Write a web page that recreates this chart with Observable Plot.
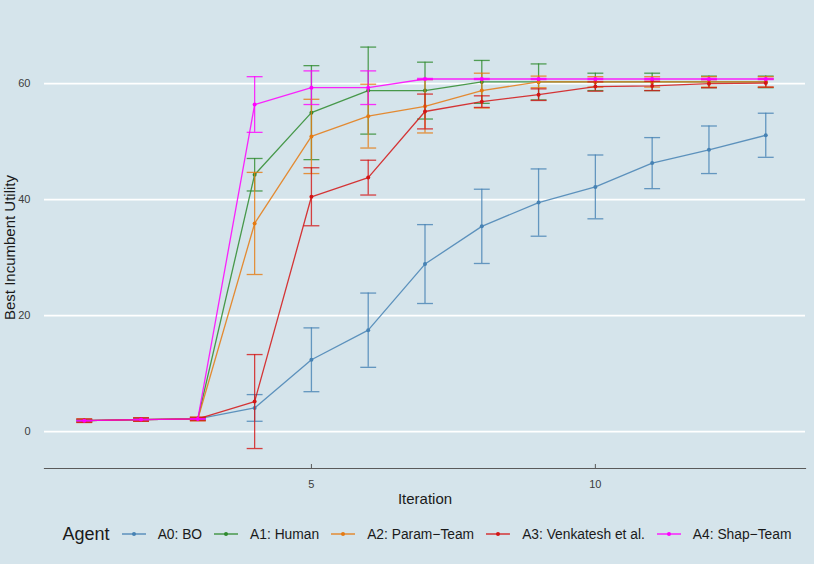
<!DOCTYPE html>
<html>
<head>
<meta charset="utf-8">
<script src="https://cdn.jsdelivr.net/npm/d3@7"></script>
<script src="https://cdn.jsdelivr.net/npm/@observablehq/plot@0.6"></script>
<style>
  html, body { margin: 0; padding: 0; background: #d5e4eb; }
  body { width: 814px; height: 564px; overflow: hidden; font-family: "Liberation Sans", Arial, sans-serif; }
  #legend { height: 44px; display: flex; align-items: center; justify-content: center; color: #1a1a1a; font-size: 13.8px; padding-left: 40px; }
  #legend .title { font-size: 18px; margin-right: 12px; }
  #legend .item { display: flex; align-items: center; margin-right: 12px; }
  #legend .item:last-child { margin-right: 0; }
  #legend .item svg { margin-right: 12px; }
</style>
</head>
<body>
<div id="chart"></div>
<div id="legend"></div>
<script>
const iterations = [1, 2, 3, 4, 5, 6, 7, 8, 9, 10, 11, 12, 13];
const agents = ["A0: BO", "A1: Human", "A2: Param\u2212Team", "A3: Venkatesh et al.", "A4: Shap\u2212Team"];
const colors = ["#4682b4", "#2e8b2e", "#e57a12", "#d31515", "#ff00ff"];

const meanA0 = [1.9, 2.1, 2.2, 4.1, 12.4, 17.5, 28.9, 35.4, 39.5, 42.2, 46.3, 48.6, 51.1];
const errA0  = [0.1, 0.1, 0.1, 2.3, 5.5, 6.4, 6.8, 6.4, 5.8, 5.5, 4.4, 4.1, 3.8];
const meanA1 = [1.9, 2.1, 2.2, 44.3, 55.0, 58.8, 58.8, 60.3, 60.3, 60.3, 60.3, 60.3, 60.3];
const errA1  = [0.2, 0.2, 0.2, 2.8, 8.1, 7.5, 4.9, 3.7, 3.1, 1.5, 1.5, 1.0, 1.0];
const meanA2 = [1.9, 2.1, 2.2, 35.9, 50.9, 54.4, 56.1, 58.8, 60.3, 60.3, 60.3, 60.3, 60.3];
const errA2  = [0.3, 0.3, 0.3, 8.8, 6.4, 5.5, 4.6, 3.0, 1.0, 0.9, 0.9, 0.9, 0.9];
const meanA3 = [1.9, 2.1, 2.2, 5.2, 40.5, 43.8, 55.2, 56.9, 58.1, 59.5, 59.6, 60.0, 60.1];
const errA3  = [0.3, 0.3, 0.3, 8.1, 5.0, 3.0, 3.0, 1.0, 1.0, 0.8, 0.8, 0.7, 0.7];
const meanA4 = [1.9, 2.1, 2.2, 56.4, 59.3, 59.3, 60.8, 60.8, 60.8, 60.8, 60.8, 60.8, 60.8];
const errA4  = [0.05, 0.05, 0.05, 4.8, 2.9, 2.9, 0.1, 0.1, 0.1, 0.1, 0.1, 0.1, 0.1];

const yTicks = [0, 20, 40, 60];
const xTicks = [5, 10];

const means = [meanA0, meanA1, meanA2, meanA3, meanA4];
const errs = [errA0, errA1, errA2, errA3, errA4];
const capHalf = 0.14;

const series = agents.map((agent, i) =>
  iterations.map((it, j) => ({agent, iter: it, mean: means[i][j], lo: means[i][j] - errs[i][j], hi: means[i][j] + errs[i][j]}))
);

const seriesMarks = series.flatMap((rows, i) => [
  Plot.ruleX(rows, {x: "iter", y1: "lo", y2: "hi", stroke: colors[i], strokeWidth: 1.3, strokeOpacity: 0.8}),
  Plot.link(rows, {x1: d => d.iter - capHalf, x2: d => d.iter + capHalf, y1: "lo", y2: "lo", stroke: colors[i], strokeWidth: 1.3, strokeOpacity: 0.8}),
  Plot.link(rows, {x1: d => d.iter - capHalf, x2: d => d.iter + capHalf, y1: "hi", y2: "hi", stroke: colors[i], strokeWidth: 1.3, strokeOpacity: 0.8}),
  Plot.line(rows, {x: "iter", y: "mean", stroke: colors[i], strokeWidth: 1.3, strokeOpacity: 0.85}),
  Plot.dot(rows, {x: "iter", y: "mean", r: 2, fill: colors[i], stroke: "none"})
]);

const chart = Plot.plot({
  width: 814,
  height: 512,
  marginLeft: 44,
  marginRight: 9,
  marginTop: 26,
  marginBottom: 44,
  style: {background: "transparent", fontFamily: "Liberation Sans, Arial, sans-serif", fontSize: "11px", color: "#3c3c3c"},
  x: {domain: [0.3, 13.7]},
  y: {domain: [-6.34, 69.85]},
  marks: [
    Plot.gridY(yTicks, {stroke: "white", strokeOpacity: 1, strokeWidth: 1.8}),
    Plot.frame({anchor: "bottom", stroke: "#5a5a5a", strokeWidth: 1.2}),
    Plot.axisY(yTicks, {tickSize: 0, tickPadding: 14, label: null, fontSize: 11}),
    Plot.axisX(xTicks, {tickSize: -4, tickPadding: 16, label: null, fontSize: 11, stroke: "#5a5a5a"}),
    Plot.text(["Best Incumbent Utility"], {frameAnchor: "left", dx: -34, rotate: -90, fontSize: 15, fill: "#1a1a1a", textAnchor: "middle", lineAnchor: "middle"}),
    Plot.text(["Iteration"], {frameAnchor: "bottom", dy: 31, fontSize: 15, fill: "#1a1a1a", textAnchor: "middle", lineAnchor: "middle"}),
    ...seriesMarks
  ]
});
document.getElementById("chart").appendChild(chart);

const legend = document.getElementById("legend");
const title = document.createElement("span");
title.className = "title";
title.textContent = "Agent";
legend.appendChild(title);
agents.forEach((a, i) => {
  const item = document.createElement("span");
  item.className = "item";
  item.innerHTML = `<svg width="24" height="10"><line x1="0" x2="24" y1="5" y2="5" stroke="${colors[i]}" stroke-opacity="0.8" stroke-width="1.6"/><circle cx="12" cy="5" r="2" fill="${colors[i]}"/></svg><span>${a}</span>`;
  legend.appendChild(item);
});
</script>
</body>
</html>
